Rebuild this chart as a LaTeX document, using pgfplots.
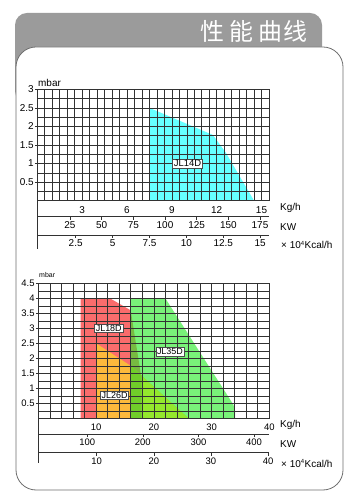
\documentclass[border=0pt]{standalone}
\usepackage{fontspec}
\setmainfont{Liberation Sans}
\newfontfamily\cjk{Noto Sans CJK SC}
\usepackage{pgfplots}
\pgfplotsset{compat=1.18}
\definecolor{tabgray}{RGB}{155,155,155}
\definecolor{bordergray}{RGB}{110,110,110}
\definecolor{gridc}{RGB}{50,50,50}
\definecolor{cyanfill}{RGB}{102,255,255}
\definecolor{redfill}{RGB}{250,108,108}
\definecolor{orangefill}{RGB}{252,185,60}
\definecolor{greenfill}{RGB}{40,235,40}
\definecolor{ygreen}{RGB}{148,232,45}
\definecolor{bandgreen}{RGB}{112,206,42}
\tikzset{lab/.style={fill=white, draw=gray!60!black, line width=0.5bp, inner sep=1.2bp, font=\fontsize{9}{9}\selectfont}}
\pgfplotsset{
  gridax/.style={
    scale only axis, axis on top, grid=both,
    /pgf/number format/assume math mode=true,
    major grid style={gridc, line width=0.55bp},
    minor grid style={gridc, line width=0.55bp},
    axis line style={gridc, line width=0.6bp},
    tick align=outside, minor tick length=0pt, major tick length=2.5bp,
    xtick style={draw=none}, ytick style={gridc, line width=0.55bp},
    xtick pos=bottom, ytick pos=left,
    yticklabel style={inner sep=1bp},
  },
  rowax/.style={
    scale only axis, height=1bp, hide y axis, axis x line*=bottom,
    /pgf/number format/assume math mode=true,
    axis line style={gridc, line width=0.6bp, -},
    tick align=outside, major tick length=3bp,
    xtick style={gridc, line width=0.6bp},
    xticklabel style={inner sep=1.5bp},
  },
}
\begin{document}
\begin{tikzpicture}
\path[use as bounding box] (0,0) rectangle (359bp,503bp);
% header tab and panel
\fill[tabgray, rounded corners=12bp] (15bp,400bp) rectangle (322bp,490bp);
\filldraw[fill=white, draw=bordergray, line width=0.8bp, rounded corners=20bp] (16bp,13bp) rectangle (343bp,456bp);
\begin{scope}[every node/.style={text=white, font=\cjk\fontsize{24}{24}\selectfont, inner sep=0pt}]
\node at (212.5bp,471.5bp) {性};
\node at (241.5bp,471.5bp) {能};
\node at (270bp,471.5bp) {曲};
\node at (295.5bp,471.5bp) {线};
\end{scope}

% ---------------- top chart ----------------
\begin{axis}[gridax, at={(37.3bp,302.3bp)}, anchor=south west,
  width=231.7bp, height=111.4bp,
  xmin=0, xmax=15.5, ymin=0, ymax=3,
  xtick={3,6,9,12,15}, minor xtick={0,0.5,...,15.5},
  ytick={0.5,1,1.5,2,2.5,3}, minor ytick={0,0.25,...,3},
  tick label style={font=\fontsize{10}{10}\selectfont},
  clip=false]
\addplot[fill=cyanfill, draw=none] coordinates {(7.5,0) (7.5,2.5) (11.75,1.77) (12.6,1.3) (14.5,0)} -- cycle;
\coordinate (l14) at (axis cs:10.05,1.0);
\end{axis}
\node[lab, font=\fontsize{9.5}{9.5}\selectfont] at (l14) {JL14D};
\begin{axis}[rowax, at={(37.3bp,286.3bp)}, anchor=south west, width=231.7bp,
  xmin=-0.8, xmax=182.1, xtick={25,50,75,100,125,150,175},
  tick label style={font=\fontsize{10}{10}\selectfont}]
\addplot[draw=none] coordinates {(0,0)};
\end{axis}
\begin{axis}[rowax, at={(37.3bp,268bp)}, anchor=south west, width=231.7bp,
  xmin=-0.1, xmax=15.6, xtick={2.5,5,7.5,10,12.5,15},
  tick label style={font=\fontsize{10}{10}\selectfont}]
\addplot[draw=none] coordinates {(0,0)};
\end{axis}
\draw[gridc, line width=0.6bp] (37.3bp,302.3bp) -- (37.3bp,254bp);
\node[anchor=west, inner sep=0pt, font=\fontsize{10}{10}\selectfont] at (38bp,420.3bp) {mbar};
\begin{scope}[every node/.style={anchor=west, inner sep=0pt, font=\fontsize{10}{10}\selectfont}]
\node at (280bp,295.3bp) {Kg/h};
\node at (280bp,276.3bp) {KW};
\node at (281bp,258bp) {× 10\textsuperscript{\fontsize{6}{6}\selectfont 4}Kcal/h};
\end{scope}

% ---------------- bottom chart ----------------
\begin{axis}[gridax, at={(38.3bp,84.7bp)}, anchor=south west,
  width=231bp, height=135bp,
  xmin=0, xmax=40, ymin=0, ymax=4.5,
  xtick={10,20,30,40}, minor xtick={0,2,...,40},
  ytick={0.5,1,1.5,2,2.5,3,3.5,4,4.5}, minor ytick={0,0.25,...,4.5},
  tick label style={font=\fontsize{9.5}{9.5}\selectfont},
  clip=false]
\addplot[fill=redfill, draw=none] coordinates {(7.35,0) (7.35,4) (12.4,4) (16,3.6) (17.9,1.3) (17.9,0)} -- cycle;
\addplot[fill=orangefill, draw=none] coordinates {(10,0) (10,2.5) (16,1.75) (26,0)} -- cycle;
\addplot[fill=greenfill, fill opacity=0.62, draw=none] coordinates {(16,0) (16,4) (22,4) (33.8,0.45) (34.1,0.2) (34.1,0)} -- cycle;
% JL26D region lying inside JL35D
\addplot[fill=ygreen, draw=none] coordinates {(16,0) (16,1.75) (26,0)} -- cycle;
% JL18D + JL26D + JL35D overlap
\addplot[fill=bandgreen, draw=none] coordinates {(16,0) (16,1.75) (17.9,1.42) (17.9,0)} -- cycle;
\coordinate (l18) at (axis cs:12.2,3.0);
\coordinate (l26) at (axis cs:13.2,0.77);
\coordinate (l35) at (axis cs:22.8,2.22);
\end{axis}
\node[lab] at (l18) {JL18D};
\node[lab] at (l26) {JL26D};
\node[lab] at (l35) {JL35D};
\begin{axis}[rowax, at={(38.3bp,68.7bp)}, anchor=south west, width=231bp,
  xmin=12.05, xmax=427.5, xtick={100,200,300,400},
  tick label style={font=\fontsize{9.5}{9.5}\selectfont}]
\addplot[draw=none] coordinates {(100,0)};
\end{axis}
\begin{axis}[rowax, at={(38.3bp,50.3bp)}, anchor=south west, width=231bp,
  xmin=-0.2, xmax=40.2, xtick={10,20,30,40},
  tick label style={font=\fontsize{9.5}{9.5}\selectfont}]
\addplot[draw=none] coordinates {(10,0)};
\end{axis}
\draw[gridc, line width=0.6bp] (38.3bp,84.7bp) -- (38.3bp,40bp);
\node[anchor=west, inner sep=0pt, font=\fontsize{7}{7}\selectfont] at (39bp,228bp) {mbar};
\begin{scope}[every node/.style={anchor=west, inner sep=0pt, font=\fontsize{10}{10}\selectfont}]
\node at (280bp,78bp) {Kg/h};
\node at (280bp,59bp) {KW};
\node at (281bp,39.7bp) {× 10\textsuperscript{\fontsize{6}{6}\selectfont 4}Kcal/h};
\end{scope}
\end{tikzpicture}
\end{document}
